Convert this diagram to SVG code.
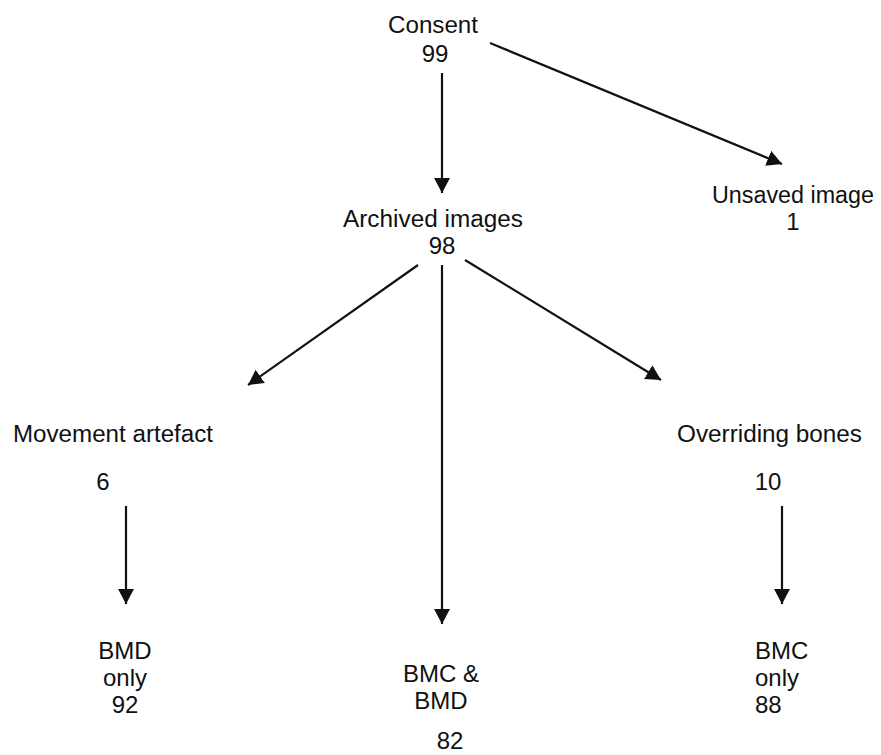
<svg xmlns="http://www.w3.org/2000/svg" width="881" height="755" viewBox="0 0 881 755">
<style>
text { font-family: "Liberation Sans", Arial, sans-serif; fill: #111; }
.t { font-size: 23px; }
.n { font-size: 24px; }
.b { font-size: 24px; }
.m { text-anchor: middle; }
.c { stroke: #111; stroke-width: 2.2; fill: none; marker-end: url(#ah); }
</style>
<defs>
<marker id="ah" markerUnits="userSpaceOnUse" markerWidth="17" markerHeight="17" refX="15" refY="8" orient="auto">
<path d="M0,0 L15,8 L0,16 z" fill="#111"/>
</marker>
</defs>
<rect width="881" height="755" fill="#fff"/>
<g id="connectors">
<line class="c" x1="442" y1="73" x2="442" y2="193"/>
<line class="c" x1="490" y1="43" x2="782" y2="164"/>
<line class="c" x1="418" y1="265" x2="248" y2="385"/>
<line class="c" x1="442" y1="265" x2="442" y2="624"/>
<line class="c" x1="465" y1="260" x2="661" y2="380"/>
<line class="c" x1="126" y1="506" x2="126" y2="604"/>
<line class="c" x1="782" y1="506" x2="782" y2="604"/>
</g>
<g id="consent">
<text class="t" x="388" y="33" textLength="90" lengthAdjust="spacingAndGlyphs">Consent</text>
<text class="n m" x="435" y="62">99</text>
</g>
<g id="archived">
<text class="t" x="343" y="227" textLength="180" lengthAdjust="spacingAndGlyphs">Archived images</text>
<text class="n m" x="442" y="254">98</text>
</g>
<g id="unsaved">
<text class="t" x="712" y="203" textLength="162" lengthAdjust="spacingAndGlyphs">Unsaved image</text>
<text class="n m" x="793" y="230">1</text>
</g>
<g id="movement">
<text class="t" x="13" y="442" textLength="200" lengthAdjust="spacingAndGlyphs">Movement artefact</text>
<text class="n m" x="103" y="490">6</text>
</g>
<g id="overriding">
<text class="t" x="677" y="442" textLength="185" lengthAdjust="spacingAndGlyphs">Overriding bones</text>
<text class="n m" x="768" y="490">10</text>
</g>
<g id="bmd-only">
<text class="b m" x="125" y="659">BMD</text>
<text class="b m" x="125" y="686">only</text>
<text class="b m" x="125" y="713">92</text>
</g>
<g id="bmc-bmd">
<text class="b m" x="441" y="682">BMC &amp;</text>
<text class="b m" x="441" y="709">BMD</text>
<text class="b m" x="450" y="749">82</text>
</g>
<g id="bmc-only">
<text class="b" x="755" y="659">BMC</text>
<text class="b" x="755" y="686">only</text>
<text class="b" x="755" y="713">88</text>
</g>
</svg>
